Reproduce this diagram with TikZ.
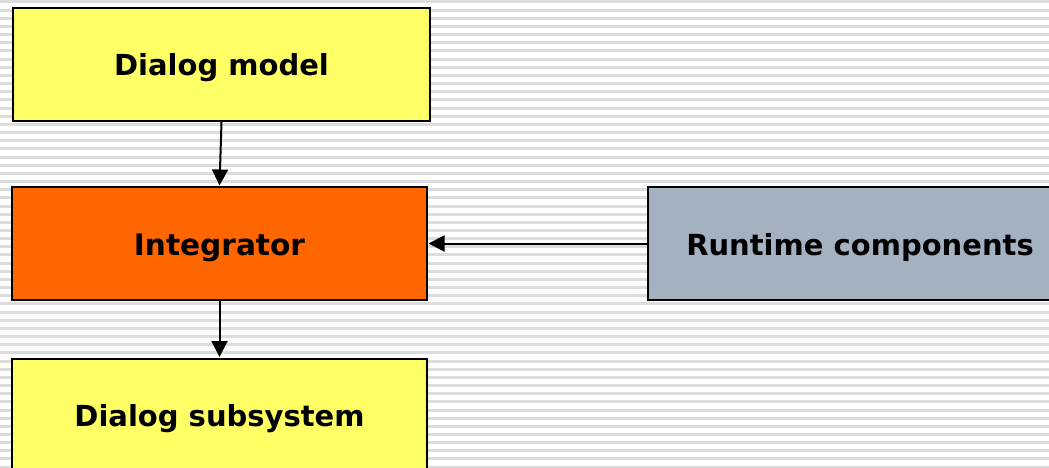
\documentclass[tikz,border=0pt]{standalone}
\usepackage{fontspec}
\setmainfont{DejaVu Sans}
\usetikzlibrary{arrows.meta}

\definecolor{boxyellow}{HTML}{FFFF66}
\definecolor{boxorange}{HTML}{FF6600}
\definecolor{boxgray}{HTML}{A3B1C1}
\definecolor{stripegray}{HTML}{DCDCDC}

\tikzset{
  block/.style={draw=black, line width=2pt, rectangle,
    minimum width=415pt, minimum height=113pt, inner sep=0pt,
    text height=23pt, text depth=0pt,
    font=\fontsize{29}{34}\selectfont\bfseries},
  flow/.style={line width=2pt, -{Triangle[length=16pt,width=16pt]}, shorten >=0.5pt},
}

\begin{document}
\begin{tikzpicture}[x=1pt, y=-1pt]
  \useasboundingbox (0,0) rectangle (1049,468);
  \clip (0,0) rectangle (1049,468);

  % striped backdrop
  \fill[white] (0,0) rectangle (1049,468);
  \foreach \k in {0,...,57}
    \fill[stripegray] (0,{0.5+8.16*\k}) rectangle (1049,{3.5+8.16*\k});

  % blocks
  \node[block, fill=boxyellow, minimum width=417pt] (model) at (221.5,64.5) {Dialog model};
  \node[block, fill=boxorange, font=\fontsize{29.6}{34}\selectfont\bfseries] (integ) at (219.5,243.5) {Integrator};
  \node[block, fill=boxgray, minimum width=424pt] (runtime) at (860,243.5) {Runtime components};
  \node[block, fill=boxyellow] (subsys) at (219.5,415) {Dialog subsystem};

  % connectors
  \draw[flow] (model.south) -- (integ.north);
  \draw[flow] (integ.south) -- (subsys.north);
  \draw[flow] (runtime.west) -- (integ.east);
\end{tikzpicture}
\end{document}
